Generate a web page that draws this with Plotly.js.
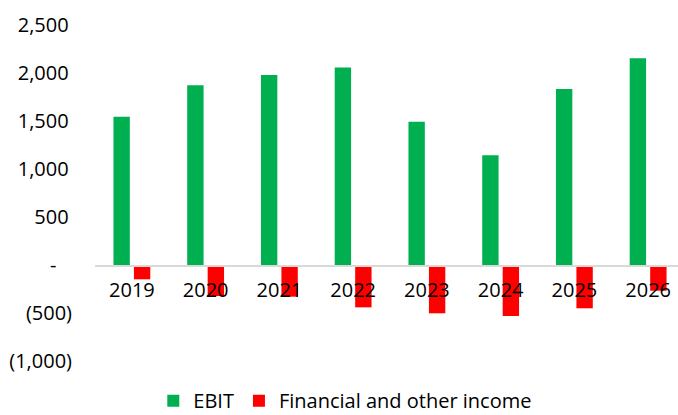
<!DOCTYPE html>
<html>
<head>
<meta charset="utf-8">
<script src="https://cdn.plot.ly/plotly-3.0.1.min.js"></script>
<style>html,body{margin:0;padding:0;background:#fff}#chart{width:678px;height:415px}</style>
</head>
<body>
<div id="chart"></div>
<script>
const years = ["2019","2020","2021","2022","2023","2024","2025","2026"];
const ebit = [1545, 1872, 1979, 2056, 1493, 1142, 1833, 2153];
const financialIncome = [-149, -323, -330, -441, -503, -531, -451, -268];
const yTickVals = [2500, 2000, 1500, 1000, 500, 0, -500, -1000];
const yTickText = ["2,500\u2009", "2,000\u2009", "1,500\u2009", "1,000\u2009", "500\u2009", "-\u00a0\u00a0\u00a0", "(500)", "(1,000)"];

const yMin = -1000, yMax = 2500;
const FONT = "Open Sans, sans-serif";

const traces = [
  {type: "bar", name: "EBIT", x: years, y: ebit, marker: {color: "#00B050", line: {width: 0}}},
  {type: "bar", name: "Financial and other income", x: years, y: financialIncome, marker: {color: "#FF0000", line: {width: 0}}}
];

const layout = {
  width: 678, height: 415,
  margin: {l: 95, r: 0, t: 25, b: 54, autoexpand: false},
  paper_bgcolor: "#fff", plot_bgcolor: "#fff",
  font: {family: FONT, size: 20, color: "#000"},
  barmode: "group", bargap: 0.445, bargroupgap: 0.2,
  showlegend: true,
  legend: {orientation: "h", x: 0.1, xanchor: "left", y: -0.118, yanchor: "middle",
           font: {family: FONT, size: 20, color: "#000"}, bgcolor: "rgba(0,0,0,0)",
           borderwidth: 0, tracegroupgap: 0},
  xaxis: {type: "category", range: [-0.5, 7.405], anchor: "free",
          position: (0 - yMin) / (yMax - yMin),
          showline: true, linecolor: "#d9d9d9", linewidth: 1.5,
          showgrid: false, zeroline: false, ticks: "", layer: "above traces",
          tickfont: {family: FONT, size: 20, color: "#000"}, ticklabelstandoff: 6},
  yaxis: {range: [yMin, yMax], tickvals: yTickVals, ticktext: yTickText,
          showgrid: false, zeroline: false, showline: false, ticks: "",
          tickfont: {family: FONT, size: 20, color: "#000"}, ticklabelstandoff: 22}
};

Plotly.newPlot("chart", traces, layout, {displayModeBar: false, staticPlot: true});
</script>
</body>
</html>
